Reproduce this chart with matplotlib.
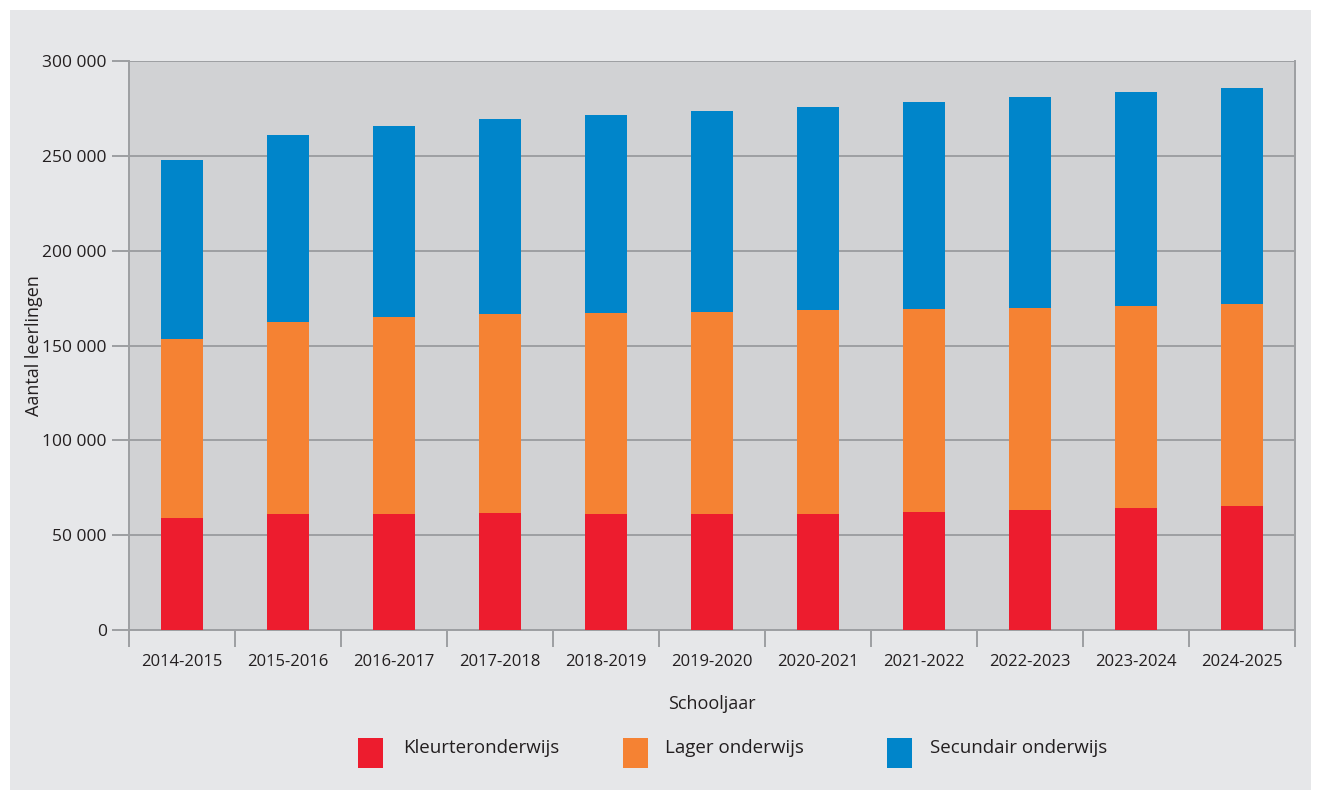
import matplotlib
matplotlib.use("Agg")
import matplotlib.pyplot as plt
from matplotlib.patches import Rectangle
import numpy as np

categories = ["2014-2015", "2015-2016", "2016-2017", "2017-2018", "2018-2019",
              "2019-2020", "2020-2021", "2021-2022", "2022-2023", "2023-2024", "2024-2025"]
kleuter = [59000, 61200, 61200, 61800, 61200, 61200, 61200, 62300, 63300, 64400, 65400]
lager = [94500, 101200, 103900, 104900, 106000, 106500, 107600, 107000, 106500, 106500, 106500]
secundair = [94400, 98700, 100700, 102800, 104400, 106000, 107000, 109200, 111300, 112900, 114000]
series_names = ["Kleurteronderwijs", "Lager onderwijs", "Secundair onderwijs"]
yticks = [0, 50000, 100000, 150000, 200000, 250000, 300000]
ytick_labels = ["0", "50 000", "100 000", "150 000", "200 000", "250 000", "300 000"]

colors = ["#ED1C2E", "#F58233", "#0085CA"]
W, H = 1321, 794
plt.rcParams['font.family'] = ['Open Sans', 'DejaVu Sans']
txt_color = "#231F20"
grid_color = "#9D9FA2"

fig = plt.figure(figsize=(W / 100, H / 100), dpi=100, facecolor="white")
fig.patches.append(Rectangle((10 / W, 4 / H), (W - 20) / W, (H - 14) / H,
                             transform=fig.transFigure, facecolor="#E6E7E9",
                             edgecolor="none", zorder=-10))

ax = fig.add_axes([129 / W, 1 - 630 / H, (1295 - 129) / W, (630 - 61) / H])
ax.set_zorder(1)
ax.set_facecolor("#D1D2D4")

x = np.arange(len(categories))
bw = 0.405
bottom = np.zeros(len(categories))
for vals, c in zip([kleuter, lager, secundair], colors):
    ax.bar(x, vals, bw, bottom=bottom, color=c, zorder=3, linewidth=0)
    bottom += np.array(vals)

ax.set_xlim(-0.5, len(categories) - 0.5)
ax.set_ylim(0, 300000)
ax.set_yticks(yticks)
ax.set_yticklabels(ytick_labels, fontsize=12.5, color=txt_color)
ax.yaxis.grid(True, color=grid_color, linewidth=1.4, zorder=1)
ax.set_axisbelow(True)

ax.set_xticks(x)
ax.set_xticklabels(categories, fontsize=12, color=txt_color)
ax.tick_params(axis='x', length=0, pad=17)
ax.set_xticks(np.arange(len(categories) + 1) - 0.5, minor=True)
ax.tick_params(axis='x', which='minor', length=12, width=1.4, color=grid_color)
ax.tick_params(axis='y', length=12, width=1.4, color=grid_color, pad=4)

ax.spines["top"].set_visible(False)
for s in ["left", "right", "bottom"]:
    ax.spines[s].set_color(grid_color)
    ax.spines[s].set_linewidth(1.4)

ax.set_ylabel("Aantal leerlingen", fontsize=13, color=txt_color, labelpad=-0.5)
ax.set_xlabel("Schooljaar", fontsize=13, color=txt_color, labelpad=18)

# legend
leg_patches = [358, 623, 887]
leg_text = [403, 665, 930]
for px, tx, c, name in zip(leg_patches, leg_text, colors, series_names):
    fig.patches.append(Rectangle((px / W, 1 - 768 / H), 25 / W, 30 / H,
                                 transform=fig.transFigure, facecolor=c,
                                 edgecolor="none", zorder=2))
    fig.text(tx / W, 1 - 748 / H, name, fontsize=13.5, color=txt_color,
             va="center", ha="left", zorder=3)

fig.savefig("out.png", dpi=100, facecolor="white")
